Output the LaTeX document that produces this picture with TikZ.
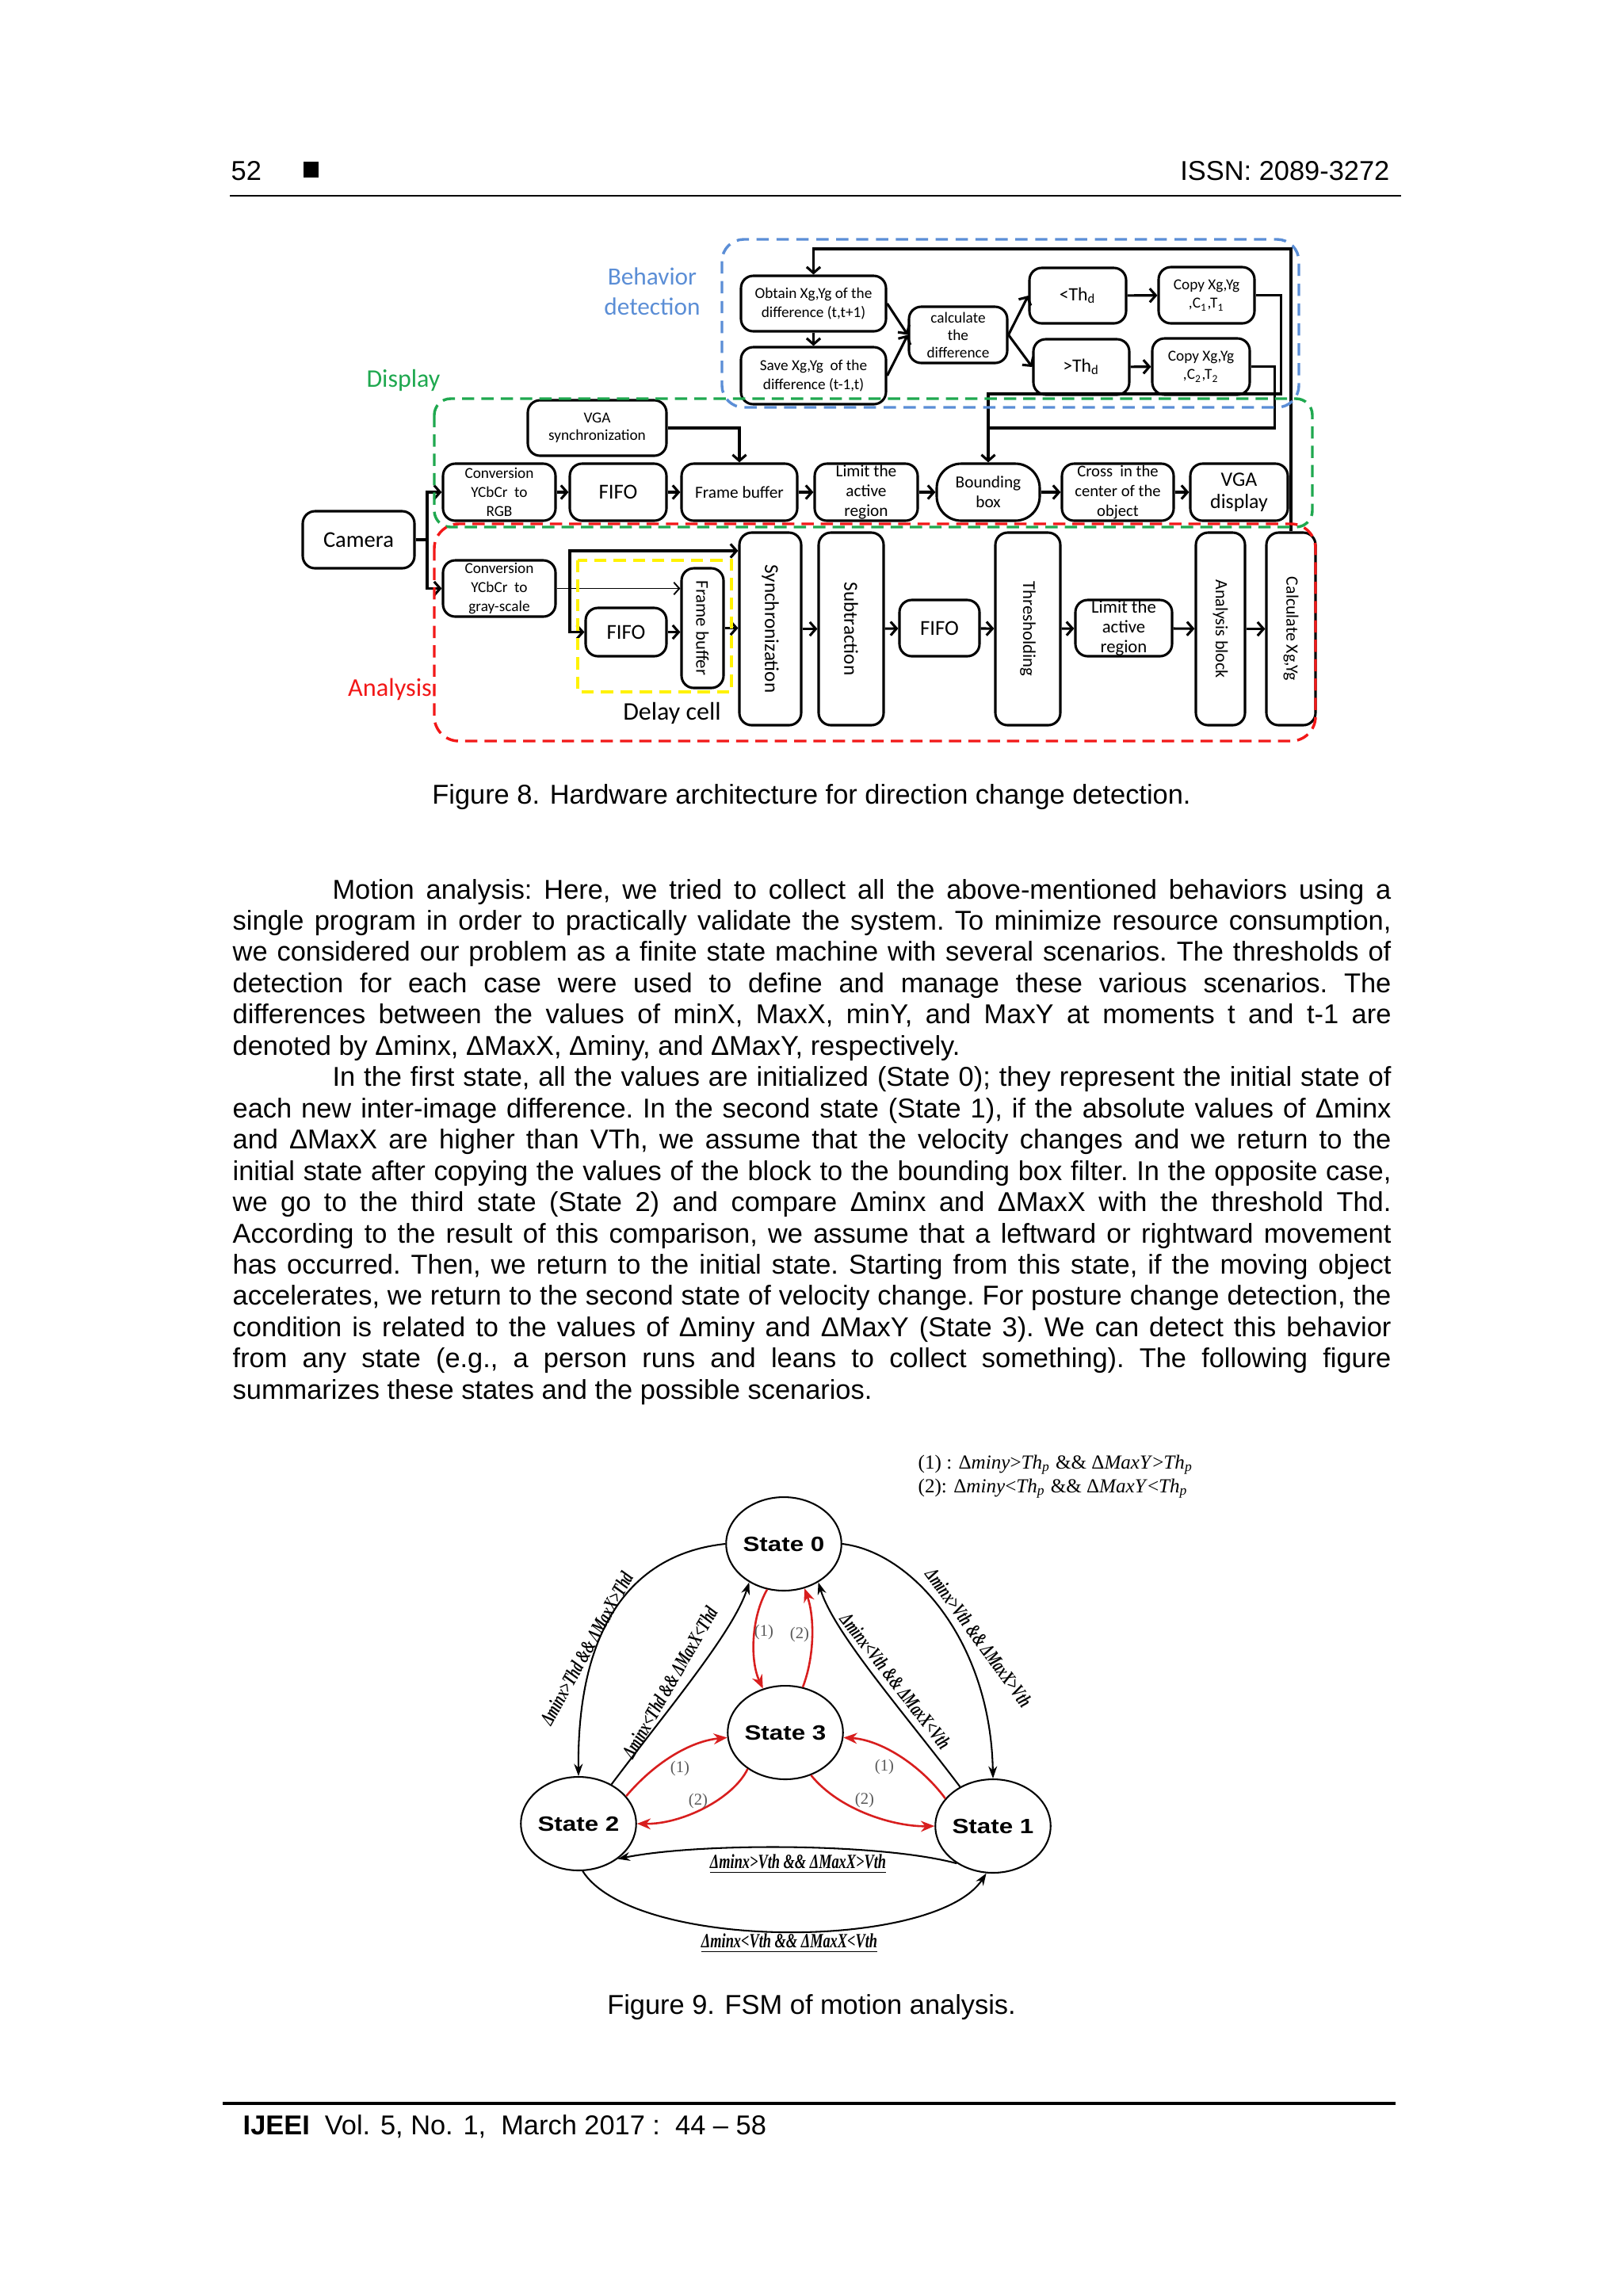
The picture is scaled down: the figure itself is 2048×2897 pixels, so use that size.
\documentclass[tikz,border=0pt]{standalone}
\usepackage{fontspec}
\usepackage{graphicx}
\setmainfont{Liberation Sans}
\newfontfamily\figfont{Carlito}
\newfontfamily\serf{Liberation Serif}
\usetikzlibrary{arrows.meta,shapes.geometric}
\definecolor{bdblue}{HTML}{5B8ED6}
\definecolor{dgreen}{HTML}{1FA84F}
\definecolor{dred}{HTML}{F21818}
\definecolor{dyel}{HTML}{FFF200}
\definecolor{fsmred}{HTML}{D81E1E}
\newcommand\bx[7]{\node[blk,#6,minimum width={(#4-#2)*0.29072pt},minimum height={(#5-#3)*0.29072pt}] (#1) at ({(#2+#4)/2},{(#3+#5)/2}) {#7};}
\newcommand\jline[1]{\makebox[\linewidth][s]{#1}\\}
\newcommand\iline[1]{\hspace*{36.6pt}\makebox[388.4pt][s]{#1}\\}
\tikzset{
  fs/.style 2 args={font=\figfont\fontsize{#1}{#2}\selectfont},
  blk/.style={draw, line width=0.9pt, rounded corners=4.5pt, inner sep=0pt, align=center, fill=white},
  arr/.style={-{Straight Barb[length=2.2pt,width=5pt]}, line width=0.9pt},
  ln/.style={line width=0.9pt},
  bdash/.style={draw=bdblue, line width=1pt, dash pattern=on 4.5pt off 2.8pt, rounded corners=8pt},
  gdash/.style={draw=dgreen, line width=1pt, dash pattern=on 4.5pt off 2.6pt, rounded corners=6pt},
  rdash/.style={draw=dred, line width=1pt, dash pattern=on 4.5pt off 2.6pt, rounded corners=9pt},
  ydash/.style={draw=dyel, line width=1pt, dash pattern=on 4.5pt off 2.6pt},
  st/.style={ellipse, draw, line width=0.6pt, minimum width=39.8pt, minimum height=34.3pt, inner sep=0pt, font=\bfseries\fontsize{7.6}{8}\selectfont},
  fe/.style={-{Stealth[length=4.5pt,width=3.2pt]}, line width=0.6pt},
  re/.style={-{Stealth[length=5pt,width=4pt]}, line width=0.75pt, draw=fsmred},
  el/.style={font=\serf\bfseries\itshape\fontsize{7.4}{8}\selectfont, inner sep=0pt},
  rl/.style={font=\serf\fontsize{6}{6}\selectfont, text=black!65, inner sep=0pt},
  txt/.style={inner sep=0pt, font=\fontsize{10}{11.47}\selectfont},
}
\begin{document}
\begin{tikzpicture}[x={(0.29072pt,0pt)}, y={(0pt,-0.29072pt)}]
\fill[white] (0,0) rectangle (2048,2897);
\useasboundingbox (0,0) rectangle (2048,2897);

% ---------- header ----------
\node[txt, anchor=base west] (pgnum) at (291,227) {52};
\fill (383,204) rectangle (402,224);
\node[txt, anchor=base east] (issn) at (1754,227) {ISSN: 2089-3272};
\draw[line width=0.8pt] (290,247) -- (1768,247);

% ---------- Figure 8 ----------
\bx{obtain}{935}{348}{1118}{418}{fs={5.6}{6.8}}{Obtain Xg,Yg of the\\difference (t,t+1)}
\bx{save}{935}{438}{1118}{510}{fs={5.6}{6.8}}{Save Xg,Yg\ \ of the\\difference (t-1,t)}
\bx{calc}{1147}{387}{1271}{458}{fs={5.6}{6.4}}{calculate\\the\\difference}
\bx{lth}{1299}{338}{1421}{408}{fs={6.9}{8}}{<Th\textsubscript{d}}
\bx{gth}{1304}{428}{1425}{498}{fs={6.9}{8}}{>Th\textsubscript{d}}
\bx{copy1}{1462}{337}{1583}{408}{fs={5.6}{6.8}}{Copy Xg,Yg\\,C\textsubscript{1},T\textsubscript{1}}
\bx{copy2}{1454}{427}{1577}{498}{fs={5.6}{6.8}}{Copy Xg,Yg\\,C\textsubscript{2},T\textsubscript{2}}

\bx{vgasync}{666}{505}{841}{575}{fs={5.6}{6.5}}{VGA\\synchronization}
\bx{convrgb}{559}{585}{701}{657}{fs={5.6}{7}}{Conversion\\YCbCr\ \ to\\RGB}
\bx{fifo1}{719}{585}{841}{657}{fs={7.8}{8.5}}{FIFO}
\bx{fb1}{860}{585}{1006}{657}{fs={6.2}{7}}{Frame buffer}
\bx{limit1}{1028}{585}{1158}{657}{fs={6.2}{7.3}}{Limit the\\active\\region}
\bx{bbox}{1182}{585}{1312}{657}{fs={6.2}{7.3},rounded corners=9pt}{Bounding\\box}
\bx{cross}{1340}{585}{1481}{657}{fs={6}{7.3}}{Cross\ \ in the\\center of the\\object}
\bx{vgadisp}{1502}{585}{1625}{657}{fs={7.5}{8.3}}{VGA\\display}

\bx{camera}{382}{645}{523}{717}{fs={8.3}{9}}{Camera}
\bx{convgray}{559}{707}{701}{778}{fs={5.6}{7}}{Conversion\\YCbCr\ \ to\\gray-scale}
\bx{fifo2}{739}{767}{841}{828}{fs={7.8}{8.5}}{FIFO}
\bx{fb2}{860}{717}{913}{868}{label={[rotate=-90,fs={6.6}{7}]center:Frame buffer}}{}
\bx{sync}{933}{672}{1011}{915}{label={[rotate=-90,fs={7.3}{8}]center:Synchronization}}{}
\bx{sub}{1033}{672}{1115}{915}{label={[rotate=-90,fs={7.3}{8}]center:Subtraction}}{}
\bx{fifo3}{1135}{757}{1236}{828}{fs={7.8}{8.5}}{FIFO}
\bx{thr}{1256}{672}{1338}{915}{label={[rotate=-90,fs={6.6}{7}]center:Thresholding}}{}
\bx{limit2}{1357}{757}{1479}{828}{fs={6.6}{7.3}}{Limit the\\active\\region}
\bx{ablk}{1509}{672}{1571}{915}{label={[rotate=-90,fs={6.4}{7}]center:Analysis block}}{}
\bx{calcxy}{1598}{672}{1660}{915}{label={[rotate=-90,fs={6.35}{7}]center:Calculate Xg,Yg}}{}

% connectors: behavior detection
\draw[arr] (calcxy.north) -- (calcxy.north |- 0,314) -| (obtain.north);
\draw[arr] (obtain) -- (save);
\draw[arr] (obtain.east) -- (calc.west);
\draw[arr] (save.east) -- (calc.west);
\draw[arr] (calc.east) -- (lth.west);
\draw[arr] (calc.east) -- (gth.west);
\draw[arr] (lth) -- (copy1);
\draw[arr] (gth) -- (copy2);
\draw[arr] (copy1.east) -- ++(32,0) |- (bbox.north |- 0,497) -- (bbox.north);
\draw[ln] (copy2.east) -- ++(30,0) |- (bbox.north |- 0,540);

% connectors: display
\draw[arr] (vgasync.east) -| (fb1.north);
\coordinate (cj) at (539,681);
\draw[ln] (camera.east) -- (cj);
\draw[arr] (cj) |- (convrgb.west);
\draw[arr] (cj) |- (convgray.west);
\draw[arr] (convrgb) -- (fifo1);
\draw[arr] (fifo1) -- (fb1);
\draw[arr] (fb1) -- (limit1);
\draw[arr] (limit1) -- (bbox);
\draw[arr] (bbox) -- (cross);
\draw[arr] (cross) -- (vgadisp);

% connectors: analysis
\coordinate (bj) at (719,742.5);
\draw[-{Straight Barb[length=2pt,width=4.5pt]}, line width=0.55pt] (convgray.east) -- (convgray.east -| fb2.west);
\draw[arr] (bj) |- (sync.west |- 0,695);
\draw[arr] (bj) |- (fifo2.west);
\draw[arr] (fifo2.east) -- (fifo2.east -| fb2.west);
\draw[arr] (fb2.east) -- (fb2.east -| sync.west);
\draw[arr] (sync) -- (sub);
\draw[arr] (sub) -- (fifo3);
\draw[arr] (fifo3) -- (thr);
\draw[arr] (thr) -- (limit2);
\draw[arr] (limit2) -- (ablk);
\draw[arr] (ablk) -- (calcxy);

% dashed groups
\draw[bdash] (911,302) rectangle (1639,514);
\draw[gdash] (548,503) rectangle (1656,665);
\draw[rdash] (548,661) rectangle (1660,935);
\draw[ydash] (729,707) rectangle (923,873);

\node[fs={9.1}{11}, text=bdblue, align=center] (behav) at (823,368) {Behavior\\detection};
\node[fs={9.3}{11}, text=dgreen] (disp) at (509,480) {Display};
\node[fs={9.4}{11}, text=dred] (anal) at (492,870) {Analysis};
\node[fs={9.3}{11}] (delay) at (848,900) {Delay cell};

\node[txt, anchor=base] (cap8) at (1024,1014) {Figure 8. Hardware architecture for direction change detection.};

% ---------- body text ----------
\node[txt, anchor=base west] (body) at (293,1134) {\parbox[t]{425pt}{\frenchspacing\baselineskip=11.47pt\relax
\iline{Motion analysis: Here, we tried to collect all the above-mentioned behaviors using a}%
\jline{single program in order to practically validate the system. To minimize resource consumption,}%
\jline{we considered our problem as a finite state machine with several scenarios. The thresholds of}%
\jline{detection for each case were used to define and manage these various scenarios. The}%
\jline{differences between the values of minX, MaxX, minY, and MaxY at moments t and t-1 are}%
denoted by Δminx, ΔMaxX, Δminy, and ΔMaxY, respectively.\\%
\iline{In the first state, all the values are initialized (State 0); they represent the initial state of}%
\jline{each new inter-image difference. In the second state (State 1), if the absolute values of Δminx}%
\jline{and ΔMaxX are higher than VTh, we assume that the velocity changes and we return to the}%
\jline{initial state after copying the values of the block to the bounding box filter. In the opposite case,}%
\jline{we go to the third state (State 2) and compare Δminx and ΔMaxX with the threshold Thd.}%
\jline{According to the result of this comparison, we assume that a leftward or rightward movement}%
\jline{has occurred. Then, we return to the initial state. Starting from this state, if the moving object}%
\jline{accelerates, we return to the second state of velocity change. For posture change detection, the}%
\jline{condition is related to the values of Δminy and ΔMaxY (State 3). We can detect this behavior}%
\jline{from any state (e.g., a person runs and leans to collect something). The following figure}%
summarizes these states and the possible scenarios.}};

% ---------- Figure 9 ----------
\node[anchor=base west, inner sep=0pt, font=\serf\fontsize{7.3}{8}\selectfont] (leg1) at (1158,1853)
  {(1) : Δ\textit{miny}>\textit{Th\textsubscript{p}} \&\& Δ\textit{MaxY}>\textit{Th\textsubscript{p}}};
\node[anchor=base west, inner sep=0pt, font=\serf\fontsize{7.3}{8}\selectfont] (leg2) at (1158,1883)
  {(2): Δ\textit{miny}<\textit{Th\textsubscript{p}} \&\& Δ\textit{MaxY}<\textit{Th\textsubscript{p}}};

\node[st] (s0) at (989,1948) {\scalebox{1.2}[1]{State 0}};
\node[st] (s3) at (991,2186) {\scalebox{1.2}[1]{State 3}};
\node[st] (s2) at (730,2301) {\scalebox{1.2}[1]{State 2}};
\node[st] (s1) at (1253,2304) {\scalebox{1.2}[1]{State 1}};

\draw[fe] (s0.west) .. controls (800,1960) and (728,2050) .. (s2.north);
\draw[fe] (s2.50) .. controls (840,2160) and (925,2060) .. (s0.228);
\draw[fe] (s0.east) .. controls (1150,1958) and (1250,2070) .. (s1.north);
\draw[fe] (s1.130) .. controls (1140,2160) and (1052,2060) .. (s0.312);
\draw[fe] (s1.226) .. controls (1110,2325) and (880,2325) .. (s2.318);
\draw[fe] (s2.275) .. controls (800,2462) and (1180,2462) .. (s1.262);

\draw[re] (s0.250) .. controls (948,2040) and (946,2095) .. (s3.117);
\draw[re] (s3.69) .. controls (1028,2090) and (1028,2040) .. (s0.295);
\draw[re] (s2.30) .. controls (825,2225) and (870,2197) .. (s3.185);
\draw[re] (s3.224) .. controls (925,2270) and (860,2302) .. (s2.east);
\draw[re] (s1.150) .. controls (1160,2225) and (1110,2195) .. (s3.355);
\draw[re] (s3.301) .. controls (1060,2285) and (1130,2305) .. (s1.west);

\node[rl] (r1) at (964,2060) {(1)};
\node[rl] (r2) at (1009,2063) {(2)};
\node[rl] (r3) at (858,2232) {(1)};
\node[rl] (r4) at (881,2273) {(2)};
\node[rl] (r5) at (1116,2230) {(1)};
\node[rl] (r6) at (1091,2272) {(2)};

\node[el, rotate=61] (l1) at (740,2080) {\scalebox{0.68}[1]{Δminx>Thd \&\& ΔMaxX>Thd}};
\node[el, rotate=60] (l2) at (845,2123) {\scalebox{0.68}[1]{Δminx<Thd \&\& ΔMaxX<Thd}};
\node[el, rotate=-52] (l3) at (1130,2121) {\scalebox{0.68}[1]{Δminx<Vth \&\& ΔMaxX<Vth}};
\node[el, rotate=-54] (l4) at (1235,2066) {\scalebox{0.68}[1]{Δminx>Vth \&\& ΔMaxX>Vth}};
\node[el] (l5) at (1007,2352) {\scalebox{0.72}[1]{\underline{Δminx>Vth \&\& ΔMaxX>Vth}}};
\node[el] (l6) at (996,2452) {\scalebox{0.72}[1]{\underline{Δminx<Vth \&\& ΔMaxX<Vth}}};

\node[txt, anchor=base] (cap9) at (1024,2541) {Figure 9. FSM of motion analysis.};

% ---------- footer ----------
\draw[line width=1pt] (281,2654) -- (1761,2654);
\node[txt, anchor=base west] (foot) at (306,2693) {\textbf{IJEEI}\ \ Vol. 5, No. 1,\ \ March 2017 :\ \ 44 – 58};
\end{tikzpicture}
\end{document}
